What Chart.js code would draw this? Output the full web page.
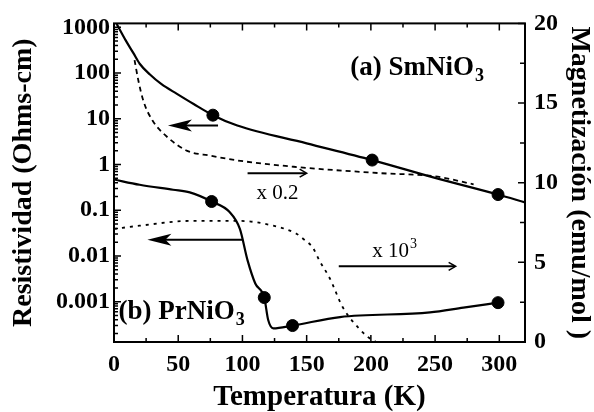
<!DOCTYPE html>
<html>
<head>
<meta charset="utf-8">
<script src="https://cdn.jsdelivr.net/npm/chart.js@4.4.0/dist/chart.umd.min.js"></script>
<style>
  html, body { margin: 0; padding: 0; background: #fff; }
  #wrap { width: 594px; height: 412px; }
</style>
</head>
<body>
<div id="wrap"><canvas id="chart" width="594" height="412"></canvas></div>
<script>
// (a) SmNiO3 resistivity, left log axis
const smT   = [2, 9, 15, 20, 28, 37, 49, 62, 77, 96, 150, 201, 250, 299, 320];
const smRho = [1200, 525, 276, 160, 93, 57, 35, 21, 12, 7.1, 2.9, 1.25, 0.51, 0.22, 0.148];
// (a) SmNiO3 magnetization (x 0.2), right axis
const smMT = [16, 19, 23, 30, 41, 57, 75, 96, 140, 207, 250, 280];
const smM  = [17.7, 16.4, 15.1, 13.9, 12.9, 12.0, 11.7, 11.4, 11.0, 10.6, 10.4, 9.9];
// (b) PrNiO3 resistivity
const prT   = [0, 20, 46, 59, 76, 90, 98, 104, 110, 117, 120, 124, 139, 176, 246, 272, 299];
const prRho = [0.47, 0.36, 0.28, 0.245, 0.155, 0.091, 0.039, 0.008, 0.0025, 0.00123, 0.0004, 0.00026, 0.0003, 0.00046, 0.00058, 0.00074, 0.00095];
// (b) PrNiO3 magnetization (x 10^3)
const prMT = [0, 20, 59, 98, 124, 142, 147, 155, 160, 168, 178, 192, 198, 204];
const prM  = [7.1, 7.3, 7.6, 7.6, 7.3, 6.8, 6.5, 5.9, 5.1, 4.0, 2.2, 0.74, 0.3, 0];

// marked points on the resistivity curves
const smDotT   = [77, 201, 299];
const smDotRho = [12, 1.25, 0.22];
const prDotT   = [76, 117, 139, 299];
const prDotRho = [0.155, 0.00123, 0.0003, 0.00095];

// tick labels
const xTicks  = [0, 50, 100, 150, 200, 250, 300];
const yTicks  = [0.001, 0.01, 0.1, 1, 10, 100, 1000];
const y2Ticks = [0, 5, 10, 15, 20];

// arrows and labels inside the plot, in data units
const arrows = [
  { axis: 'y',  from: [81, 7.1],     to: [42, 7.1],     head: 'solid' },
  { axis: 'y2', from: [104, 10.6],   to: [150, 10.6],   head: 'open' },
  { axis: 'y',  from: [100, 0.0227], to: [26, 0.0227],  head: 'solid' },
  { axis: 'y2', from: [175, 4.75],   to: [266, 4.75],   head: 'open' }
];
const notes = [
  { text: '(a) SmNiO', sub: '3', t: 184, m: 17.2, bold: true, size: 27 },
  { text: '(b) PrNiO', sub: '3', t: 3.5, m: 1.85, bold: true, size: 27 },
  { text: 'x 0.2', t: 111, m: 9.3, size: 21 },
  { text: 'x 10', sup: '3', t: 201, m: 5.7, size: 21 }
];

const SERIF = "'Liberation Serif', 'Times New Roman', serif";
const pts = (xs, ys) => xs.map((v, i) => ({ x: v, y: ys[i] }));

const framePlugin = {
  id: 'frame',
  afterDatasetsDraw(chart) {
    const { ctx, chartArea: a, scales: { x, y, y2 } } = chart;
    ctx.save();
    ctx.strokeStyle = '#000';
    ctx.fillStyle = '#000';
    ctx.lineWidth = 2;
    ctx.strokeRect(a.left, a.top, a.right - a.left, a.bottom - a.top);

    // inward ticks
    ctx.lineWidth = 1.5;
    ctx.beginPath();
    for (let v = 0; v <= x.max; v += 25) {
      const px = x.getPixelForValue(v);
      const len = v % 50 === 0 ? 7 : 4;
      ctx.moveTo(px, a.bottom); ctx.lineTo(px, a.bottom - len);
      ctx.moveTo(px, a.top); ctx.lineTo(px, a.top + len);
    }
    for (let e = -4; e <= 3; e++) {
      for (let k = 1; k <= 9; k++) {
        const v = k * Math.pow(10, e);
        if (v < y.min || v > y.max) continue;
        const py = y.getPixelForValue(v);
        ctx.moveTo(a.left, py); ctx.lineTo(a.left + (k === 1 ? 7 : 4), py);
      }
    }
    for (let v = 0; v <= 20; v += 2.5) {
      const py = y2.getPixelForValue(v);
      ctx.moveTo(a.right, py); ctx.lineTo(a.right - (v % 5 === 0 ? 7 : 5), py);
    }
    ctx.stroke();

    // arrows
    arrows.forEach(ar => {
      const ys = chart.scales[ar.axis];
      const x0 = x.getPixelForValue(ar.from[0]), y0 = ys.getPixelForValue(ar.from[1]);
      const x1 = x.getPixelForValue(ar.to[0]), y1 = ys.getPixelForValue(ar.to[1]);
      const d = Math.sign(x1 - x0);
      ctx.lineWidth = 2;
      ctx.beginPath();
      ctx.moveTo(x0, y0);
      ctx.lineTo(x1 - d * (ar.head === 'solid' ? 12 : 1), y1);
      ctx.stroke();
      if (ar.head === 'solid') {
        ctx.beginPath();
        ctx.moveTo(x1, y1);
        ctx.lineTo(x1 - d * 24, y1 - 6);
        ctx.lineTo(x1 - d * 18, y1);
        ctx.lineTo(x1 - d * 24, y1 + 6);
        ctx.closePath();
        ctx.fill();
      } else {
        ctx.lineWidth = 1.5;
        ctx.beginPath();
        ctx.moveTo(x1 - d * 7, y1 - 4); ctx.lineTo(x1, y1); ctx.lineTo(x1 - d * 7, y1 + 4);
        ctx.stroke();
      }
    });

    // labels
    ctx.textBaseline = 'middle';
    ctx.textAlign = 'left';
    notes.forEach(n => {
      const px = x.getPixelForValue(n.t), py = y2.getPixelForValue(n.m);
      const w = n.bold ? 'bold ' : '';
      ctx.font = w + n.size + 'px ' + SERIF;
      ctx.fillText(n.text, px, py);
      const tw = ctx.measureText(n.text).width;
      const small = Math.round(n.size * 0.68);
      ctx.font = w + small + 'px ' + SERIF;
      if (n.sub) ctx.fillText(n.sub, px + tw + 1, py + n.size * 0.3);
      if (n.sup) ctx.fillText(n.sup, px + tw + 1, py - n.size * 0.35);
    });
    ctx.restore();
  }
};

const tickFont = { family: SERIF, size: 24, weight: 'bold' };
const titleFont = { family: SERIF, size: 28, weight: 'bold', lineHeight: 1 };

new Chart(document.getElementById('chart'), {
  type: 'line',
  data: {
    datasets: [
      { data: pts(smT, smRho), yAxisID: 'y', borderColor: '#000', borderWidth: 2.2, pointRadius: 0, cubicInterpolationMode: 'monotone' },
      { data: pts(smMT, smM), yAxisID: 'y2', borderColor: '#000', borderWidth: 1.8, borderDash: [5, 4], pointRadius: 0, cubicInterpolationMode: 'monotone' },
      { data: pts(prT, prRho), yAxisID: 'y', borderColor: '#000', borderWidth: 2.2, pointRadius: 0, cubicInterpolationMode: 'monotone' },
      { data: pts(prMT, prM), yAxisID: 'y2', borderColor: '#000', borderWidth: 1.8, borderDash: [3, 5], pointRadius: 0, cubicInterpolationMode: 'monotone' },
      { type: 'scatter', data: pts(smDotT, smDotRho), yAxisID: 'y', pointRadius: 6, backgroundColor: '#000', borderColor: '#000' },
      { type: 'scatter', data: pts(prDotT, prDotRho), yAxisID: 'y', pointRadius: 6, backgroundColor: '#000', borderColor: '#000' }
    ]
  },
  options: {
    responsive: false,
    animation: false,
    layout: { padding: { top: 18, left: 0, right: 0, bottom: 0 } },
    plugins: { legend: { display: false }, tooltip: { enabled: false } },
    scales: {
      x: {
        type: 'linear', min: 0, max: 320,
        afterBuildTicks: s => { s.ticks = xTicks.map(v => ({ value: v })); },
        afterFit: s => { s.height = 70; },
        grid: { display: false, drawTicks: false },
        border: { display: false },
        ticks: { padding: 8, font: tickFont, color: '#000', maxRotation: 0 },
        title: { display: true, text: 'Temperatura (K)', font: { ...titleFont, size: 29 }, color: '#000', padding: { top: 0, bottom: 0 } }
      },
      y: {
        type: 'logarithmic', position: 'left', min: 1.31e-4, max: 1220,
        afterBuildTicks: s => { s.ticks = yTicks.map(v => ({ value: v })); },
        afterFit: s => { s.width = 114; },
        grid: { display: false, drawTicks: false },
        border: { display: false },
        ticks: { padding: 4, font: tickFont, color: '#000', callback: v => String(v) },
        title: { display: true, text: 'Resistividad (Ohms-cm)', font: titleFont, color: '#000', padding: { top: 10, bottom: 0 } }
      },
      y2: {
        type: 'linear', position: 'right', min: 0, max: 20,
        afterBuildTicks: s => { s.ticks = y2Ticks.map(v => ({ value: v })); },
        afterFit: s => { s.width = 69; },
        grid: { display: false, drawTicks: false },
        border: { display: false },
        ticks: { padding: 9, font: tickFont, color: '#000' },
        title: { display: true, text: 'Magnetización (emu/mol )', font: titleFont, color: '#000', padding: { top: 1, bottom: 0 } }
      }
    }
  },
  plugins: [framePlugin]
});
</script>
</body>
</html>
